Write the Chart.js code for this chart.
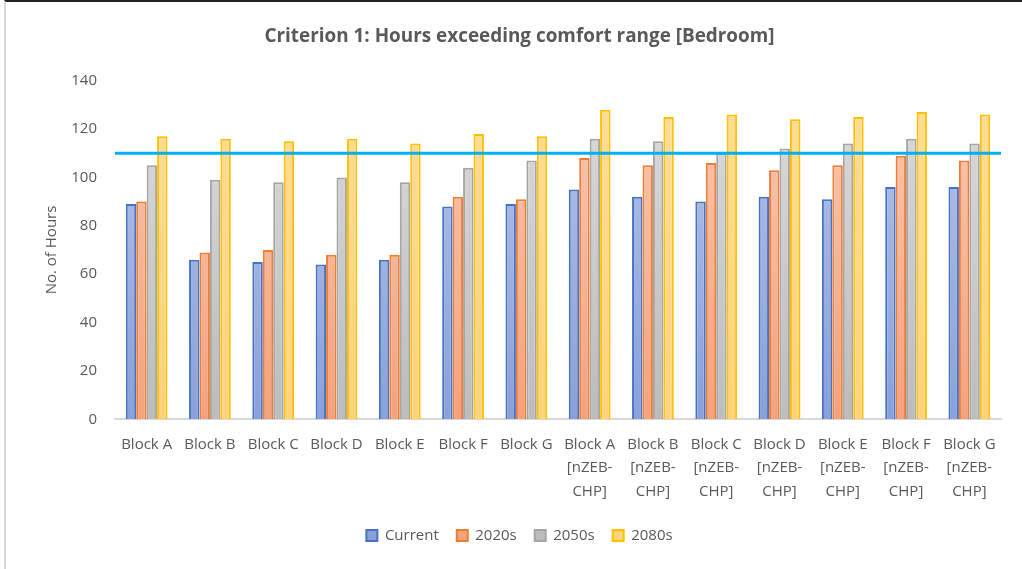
<!DOCTYPE html>
<html lang="en">
<head>
    <meta charset="UTF-8">
    <title>Criterion 1: Hours exceeding comfort range [Bedroom]</title>
    <script src="https://cdn.jsdelivr.net/npm/chart.js@4.4.1/dist/chart.umd.min.js"></script>
    <style>
        html, body { margin: 0; padding: 0; background: #fff; }
        .frame {
            position: absolute; left: 4px; top: 0; width: 1018px; height: 569px;
            border-top: 2px solid #222; border-left: 2px solid #d9d9d9;
            box-sizing: border-box;
        }
        .wrap { position: absolute; left: 0; top: 0; width: 1022px; height: 569px; }
    </style>
</head>
<body>
    <div class="frame"></div>
    <div class="wrap"><canvas id="chartCanvas"></canvas></div>
    <script>
        let blocks = [
            "Block A", "Block B", "Block C", "Block D", "Block E", "Block F", "Block G",
            ["Block A", "[nZEB-", "CHP]"], ["Block B", "[nZEB-", "CHP]"], ["Block C", "[nZEB-", "CHP]"],
            ["Block D", "[nZEB-", "CHP]"], ["Block E", "[nZEB-", "CHP]"], ["Block F", "[nZEB-", "CHP]"],
            ["Block G", "[nZEB-", "CHP]"]
        ];
        let current = [89, 66, 65, 64, 66, 88, 89, 95, 92, 90, 92, 91, 96, 96];
        let s2020 = [90, 69, 70, 68, 68, 92, 91, 108, 105, 106, 103, 105, 109, 107];
        let s2050 = [105, 99, 98, 100, 98, 104, 107, 116, 115, 110, 112, 114, 116, 114];
        let s2080 = [117, 116, 115, 116, 114, 118, 117, 128, 125, 126, 124, 125, 127, 126];
        let comfortLimit = 110;

        let grey = "#595959";
        let font = "'Open Sans', 'DejaVu Sans', sans-serif";

        // vertical fade inside the plot area, lighter at the top
        let fade = (top, bottom) => (ctx) => {
            let area = ctx.chart.chartArea;
            if (!area) return bottom;
            let g = ctx.chart.ctx.createLinearGradient(0, area.top, 0, area.bottom);
            g.addColorStop(0, top);
            g.addColorStop(1, bottom);
            return g;
        };

        // the comfort threshold drawn straight across the plot
        let limitLine = {
            id: "limitLine",
            afterDatasetsDraw(chart) {
                let y = chart.scales.y.getPixelForValue(comfortLimit);
                let c = chart.ctx;
                c.save();
                c.strokeStyle = "#00b0f0";
                c.lineWidth = 3;
                c.beginPath();
                c.moveTo(chart.chartArea.left, y);
                c.lineTo(chart.chartArea.right, y);
                c.stroke();
                c.restore();
            }
        };

        let mychart = document.getElementById("chartCanvas").getContext('2d');
        let chart = new Chart(mychart, {
            type: "bar",
            data: {
                labels: blocks,
                datasets: [
                    {
                        label: "Current",
                        data: current,
                        backgroundColor: fade("#b7c4e8", "#8aa0d9"),
                        borderColor: "#4472c4",
                        borderWidth: 2
                    },
                    {
                        label: "2020s",
                        data: s2020,
                        backgroundColor: fade("#f9c9b3", "#f4a27f"),
                        borderColor: "#ed7d31",
                        borderWidth: 2
                    },
                    {
                        label: "2050s",
                        data: s2050,
                        backgroundColor: fade("#dcdcdc", "#bcbcbc"),
                        borderColor: "#a5a5a5",
                        borderWidth: 2
                    },
                    {
                        label: "2080s",
                        data: s2080,
                        backgroundColor: fade("#ffdd98", "#ffd37c"),
                        borderColor: "#ffc000",
                        borderWidth: 2
                    }
                ]
            },
            options: {
                responsive: true,
                maintainAspectRatio: false,
                animation: false,
                categoryPercentage: 0.66,
                barPercentage: 1.0,
                layout: { padding: { top: 8, right: 21, bottom: 16, left: 38 } },
                plugins: {
                    title: {
                        display: true,
                        text: "Criterion 1: Hours exceeding comfort range [Bedroom]",
                        color: grey,
                        font: { family: font, size: 18.9, weight: "bold" },
                        padding: { top: 17, bottom: 33 }
                    },
                    legend: {
                        position: "bottom",
                        labels: {
                            color: grey,
                            font: { family: font, size: 15 },
                            boxWidth: 11,
                            boxHeight: 11,
                            padding: 18
                        }
                    },
                    tooltip: { enabled: false }
                },
                scales: {
                    x: {
                        grid: { display: false, drawTicks: false },
                        border: { display: true, color: "#d9d9d9", width: 2 },
                        ticks: {
                            color: grey,
                            font: { family: font, size: 15, lineHeight: 1.55 },
                            maxRotation: 0,
                            autoSkip: false,
                            padding: 14
                        },
                        afterFit(scale) { scale.height = scale.height - 7; }
                    },
                    y: {
                        min: 0,
                        max: 140,
                        grid: { display: false, drawTicks: false },
                        border: { display: false },
                        ticks: {
                            stepSize: 20,
                            color: grey,
                            font: { family: font, size: 15 },
                            padding: 18
                        },
                        title: {
                            display: true,
                            text: "No. of Hours",
                            color: grey,
                            font: { family: font, size: 15 },
                            padding: { top: 5, bottom: 0 }
                        },
                        afterFit(scale) { scale.width = 77; }
                    }
                }
            },
            plugins: [limitLine]
        });
    </script>
</body>
</html>
